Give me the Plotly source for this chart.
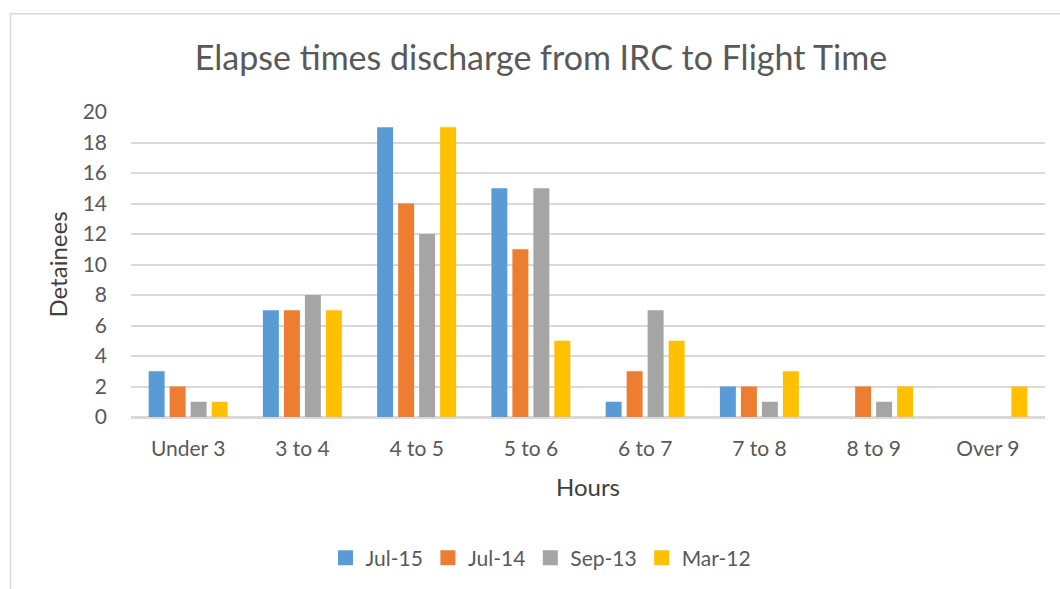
import plotly.graph_objects as go

categories = ["Under 3", "3 to 4", "4 to 5", "5 to 6", "6 to 7", "7 to 8", "8 to 9", "Over 9"]
jul15 = [3, 7, 19, 15, 1, 2, 0, 0]
jul14 = [2, 7, 14, 11, 3, 2, 2, 0]
sep13 = [1, 8, 12, 15, 7, 1, 1, 0]
mar12 = [1, 7, 19, 5, 5, 3, 2, 2]
series_names = ["Jul-15", "Jul-14", "Sep-13", "Mar-12"]
colors = ["#5b9bd5", "#ed7d31", "#a5a5a5", "#ffc000"]

W, H = 1060, 589
ml, mr, mt, mb = 131, 15, 112, 171

fig = go.Figure()
for name, vals, c in zip(series_names, [jul15, jul14, sep13, mar12], colors):
    fig.add_trace(go.Bar(x=categories, y=vals, name=name, marker_color=c, marker_line_width=0,
                         showlegend=False))
# legend entries with square swatches
for name, c in zip(series_names, colors):
    fig.add_trace(go.Scatter(x=[None], y=[None], mode="markers", name=name,
                             marker=dict(symbol="square", size=15, color=c, line=dict(width=0))))

pw = W - ml - mr
ph = H - mt - mb
def px(x):
    return (x - ml) / pw
def py(y):
    return (H - mb - y) / ph

fig.update_layout(
    width=W, height=H,
    margin=dict(l=ml, r=mr, t=mt, b=mb),
    paper_bgcolor="white", plot_bgcolor="white",
    font=dict(family="Lato, Open Sans, sans-serif", color="#595959", size=21),
    title=dict(text="Elapse times discharge from IRC to Flight Time", x=0.5 + 11 / W, xanchor="center",
               y=1 - 58 / H, yanchor="middle", font=dict(size=34, color="#595959")),
    barmode="group", bargap=0.265, bargroupgap=0.24,
    showlegend=True,
    legend=dict(orientation="h", x=0.5 - 47 / pw, xanchor="center", y=py(558), yanchor="middle",
                font=dict(size=21, color="#595959"), traceorder="normal", itemwidth=30),
    shapes=[dict(type="rect", xref="paper", yref="paper",
                 x0=px(10.5), x1=px(1075), y0=py(620), y1=py(13.5),
                 line=dict(color="#d9d9d9", width=1.5), layer="below")],
)
fig.update_xaxes(title=dict(text="Hours", font=dict(size=24, color="#404040"), standoff=20),
                 showline=True, linecolor="#d9d9d9", linewidth=1.5, ticks="",
                 ticklabelstandoff=12,
                 tickfont=dict(size=21, color="#595959"), range=[-0.5, 7.5])
fig.update_yaxes(title=dict(text="Detainees", font=dict(size=24, color="#404040"), standoff=8),
                 range=[0, 20], dtick=2, showgrid=True, gridcolor="#d9d9d9", gridwidth=1.5,
                 zeroline=True, zerolinecolor="#d9d9d9", zerolinewidth=1.5, ticks="",
                 ticklabelstandoff=23,
                 tickfont=dict(size=21, color="#595959"))

fig.write_html("out.html", config={"displayModeBar": False},
               post_script="document.body.style.margin='0';document.body.style.overflow='hidden';")
